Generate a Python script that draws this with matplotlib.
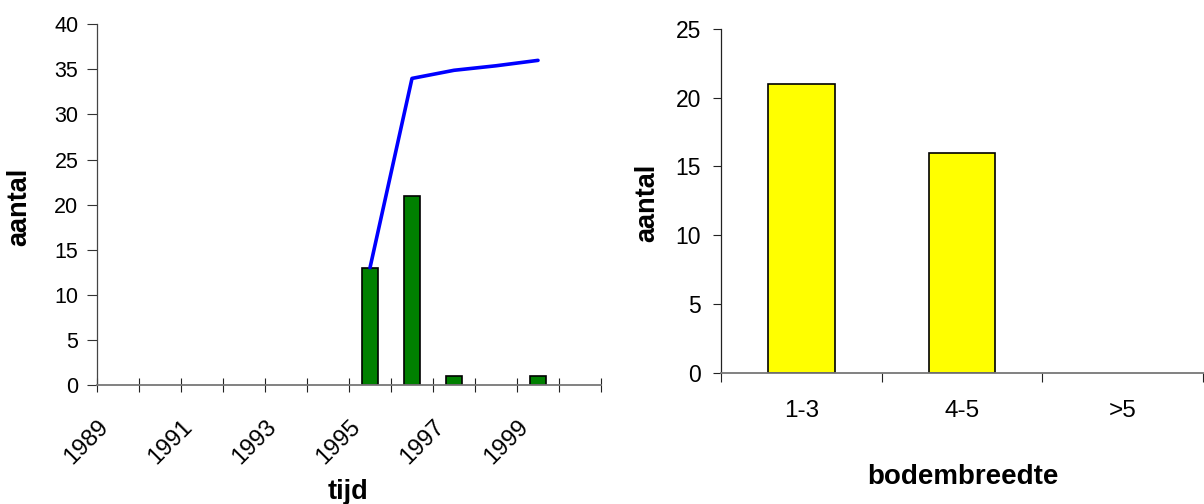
import matplotlib
matplotlib.use("Agg")
import matplotlib.pyplot as plt

plt.rcParams['font.family'] = ['Liberation Sans', 'DejaVu Sans']

# ---- data ----
years = [1989, 1990, 1991, 1992, 1993, 1994, 1995, 1996, 1997, 1998, 1999, 2000]
counts = [0, 0, 0, 0, 0, 0, 13, 21, 1, 0, 1, 0]
line_years = [1995, 1996, 1997, 1998, 1999]
line_values = [13, 34, 34.9, 35.4, 36]
year_labels = ['1989', '1991', '1993', '1995', '1997', '1999']

widths = ['1-3', '4-5', '>5']
width_counts = [21, 16, 0]

W, H = 1204, 504
fig = plt.figure(figsize=(W / 100, H / 100), dpi=100)

# ---- left chart ----
ax1 = fig.add_axes([97 / W, 1 - 385 / H, 504 / W, (385 - 24.3) / H])
xi = [i + 0.5 for i in range(len(years))]
ax1.bar(xi, counts, width=0.4, color='#008000', edgecolor='black',
        linewidth=[1.2 if v else 0 for v in counts], zorder=2)
lx = [years.index(y) + 0.5 for y in line_years]
ax1.plot(lx, line_values, color='#0000FF', linewidth=2.6, zorder=3, solid_capstyle='round')
ax1.set_xlim(0, len(years))
ax1.set_ylim(0, 40)
ax1.set_yticks(range(0, 41, 5))
ax1.set_yticklabels([str(v) for v in range(0, 41, 5)])
ax1.tick_params(axis='y', direction='out', length=7.5, width=0.8, pad=6, labelsize=15.5, color='#333333')
ax1.set_xticks(range(0, len(years) + 1), minor=True)
ax1.tick_params(axis='x', which='minor', direction='inout', length=9.5, width=0.8, color='#222222')
lab_pos = [years.index(int(y)) + 0.5 - 0.3 for y in year_labels]
ax1.set_xticks(lab_pos)
ax1.set_xticklabels(year_labels, rotation=45, ha='right', va='center', rotation_mode='anchor')
ax1.tick_params(axis='x', which='major', length=0, pad=28, labelsize=17)
for s in ['top', 'right']:
    ax1.spines[s].set_visible(False)
ax1.spines['left'].set_color('#444444')
ax1.spines['left'].set_linewidth(0.9)
ax1.spines['bottom'].set_color('#777777')
ax1.spines['bottom'].set_linewidth(1.3)

fig.text(348 / W, 1 - 499 / H, 'tijd', ha='center', va='baseline', fontsize=19.5, fontweight='bold')
fig.text(19 / W, 1 - 206.5 / H, 'aantal', ha='center', va='center', rotation=90, fontsize=19.5, fontweight='bold')

# ---- right chart ----
ax2 = fig.add_axes([721 / W, 1 - 372.7 / H, 482 / W, (372.7 - 29) / H])
xc = [i + 0.5 for i in range(len(widths))]
ax2.bar(xc, width_counts, width=0.415, color='#FFFF00', edgecolor='black',
        linewidth=[1.2 if v else 0 for v in width_counts], zorder=2)
ax2.set_xlim(0, len(widths))
ax2.set_ylim(0, 25)
ax2.set_yticks(range(0, 26, 5))
ax2.tick_params(axis='y', direction='out', length=6, width=0.8, pad=8.5, labelsize=16.5, color='#222222')
ax2.set_xticks(range(0, len(widths) + 1))
ax2.set_xticklabels([''] * (len(widths) + 1))
ax2.tick_params(axis='x', which='major', direction='out', length=6.5, width=0.8, color='#222222')
ax2.set_xticks(xc, minor=True)
ax2.set_xticklabels(widths, minor=True)
ax2.tick_params(axis='x', which='minor', length=0, pad=20, labelsize=17.5)
for s in ['top', 'right']:
    ax2.spines[s].set_visible(False)
ax2.spines['left'].set_color('#222222')
ax2.spines['left'].set_linewidth(0.9)
ax2.spines['bottom'].set_color('#777777')
ax2.spines['bottom'].set_linewidth(1.3)

fig.text(963 / W, 1 - 484 / H, 'bodembreedte', ha='center', va='baseline', fontsize=20, fontweight='bold')
fig.text(647 / W, 1 - 203 / H, 'aantal', ha='center', va='center', rotation=90, fontsize=19.5, fontweight='bold')

fig.savefig('out.png', dpi=100, facecolor='white')
